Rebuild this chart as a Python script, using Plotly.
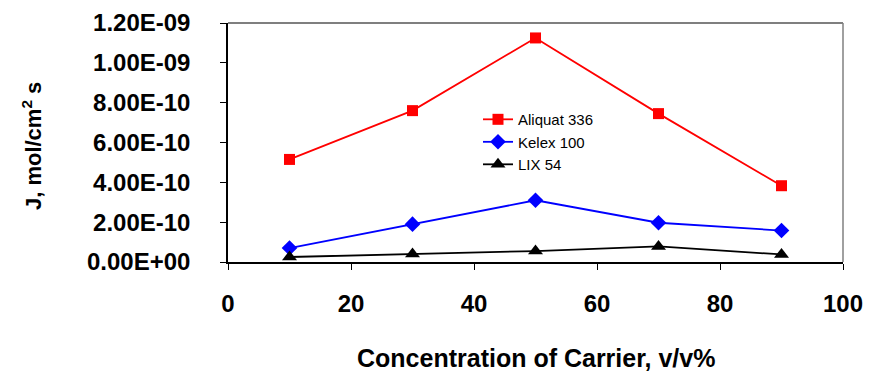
import plotly.graph_objects as go

conc = [10, 30, 50, 70, 90]
aliquat = [5.15e-10, 7.6e-10, 1.125e-9, 7.45e-10, 3.83e-10]
kelex = [0.70e-10, 1.90e-10, 3.10e-10, 1.97e-10, 1.58e-10]
lix = [0.25e-10, 0.40e-10, 0.55e-10, 0.78e-10, 0.38e-10]

y_ticks = [0, 2e-10, 4e-10, 6e-10, 8e-10, 1e-9, 1.2e-9]
y_ticktext = ["0.00E+00", "2.00E-10", "4.00E-10", "6.00E-10", "8.00E-10", "1.00E-09", "1.20E-09"]
x_ticks = [0, 20, 40, 60, 80, 100]

FONT = "Liberation Sans, Arial, sans-serif"

fig = go.Figure()
fig.add_trace(go.Scatter(x=conc, y=aliquat, name="Aliquat 336", mode="lines+markers",
                         line=dict(color="#FF0000", width=1.8),
                         marker=dict(symbol="square", size=11, color="#FF0000")))
fig.add_trace(go.Scatter(x=conc, y=kelex, name="Kelex 100", mode="lines+markers",
                         line=dict(color="#0000FF", width=1.8),
                         marker=dict(symbol="diamond", size=12, color="#0000FF")))
fig.add_trace(go.Scatter(x=conc, y=lix, name="LIX 54", mode="lines+markers",
                         line=dict(color="#000000", width=1.8),
                         marker=dict(symbol="triangle-up", size=13, color="#000000")))

fig.update_layout(
    width=873, height=373,
    margin=dict(l=228, r=30, t=23, b=111),
    paper_bgcolor="white", plot_bgcolor="white",
    font=dict(family=FONT, color="black"),
    showlegend=True,
    legend=dict(x=0.4065, y=0.665, xanchor="left", yanchor="top",
                bgcolor="rgba(0,0,0,0)", borderwidth=0,
                font=dict(size=15, color="black"), tracegroupgap=0, itemwidth=30),
    xaxis=dict(range=[0, 100], tickvals=x_ticks, showgrid=False, zeroline=False,
               showline=True, linecolor="black", linewidth=1.5, automargin=False,
               ticks="outside", ticklen=6, tickcolor="black", tickwidth=1,
               tickfont=dict(family=FONT, size=24, color="black", weight="bold"),
               ticklabelstandoff=13),
    yaxis=dict(range=[0, 1.2e-9], tickvals=y_ticks, ticktext=y_ticktext, showgrid=False,
               zeroline=False, showline=True, linecolor="black", linewidth=1.5, automargin=False,
               ticks="outside", ticklen=6, tickcolor="black", tickwidth=1,
               tickfont=dict(family=FONT, size=24, color="black", weight="bold"),
               ticklabelstandoff=25),
    annotations=[
        dict(text="Concentration of Carrier, v/v%", xref="paper", yref="paper",
             x=0.5, y=-0.4017, xanchor="center", yanchor="middle", showarrow=False,
             font=dict(family=FONT, size=25, color="black", weight="bold")),
        dict(text="J, mol/cm<sup>2</sup> s", xref="paper", yref="paper",
             x=-0.3187, y=0.485, xanchor="center", yanchor="middle", showarrow=False,
             textangle=-90, font=dict(family=FONT, size=22, color="black", weight="bold")),
    ],
    shapes=[
        dict(type="line", xref="paper", yref="paper", x0=0, x1=1, y0=1, y1=1,
             line=dict(color="black", width=1.2)),
        dict(type="line", xref="paper", yref="paper", x0=1, x1=1, y0=0, y1=1,
             line=dict(color="#808080", width=1.5)),
    ],
)

fig.write_html("out.html")
